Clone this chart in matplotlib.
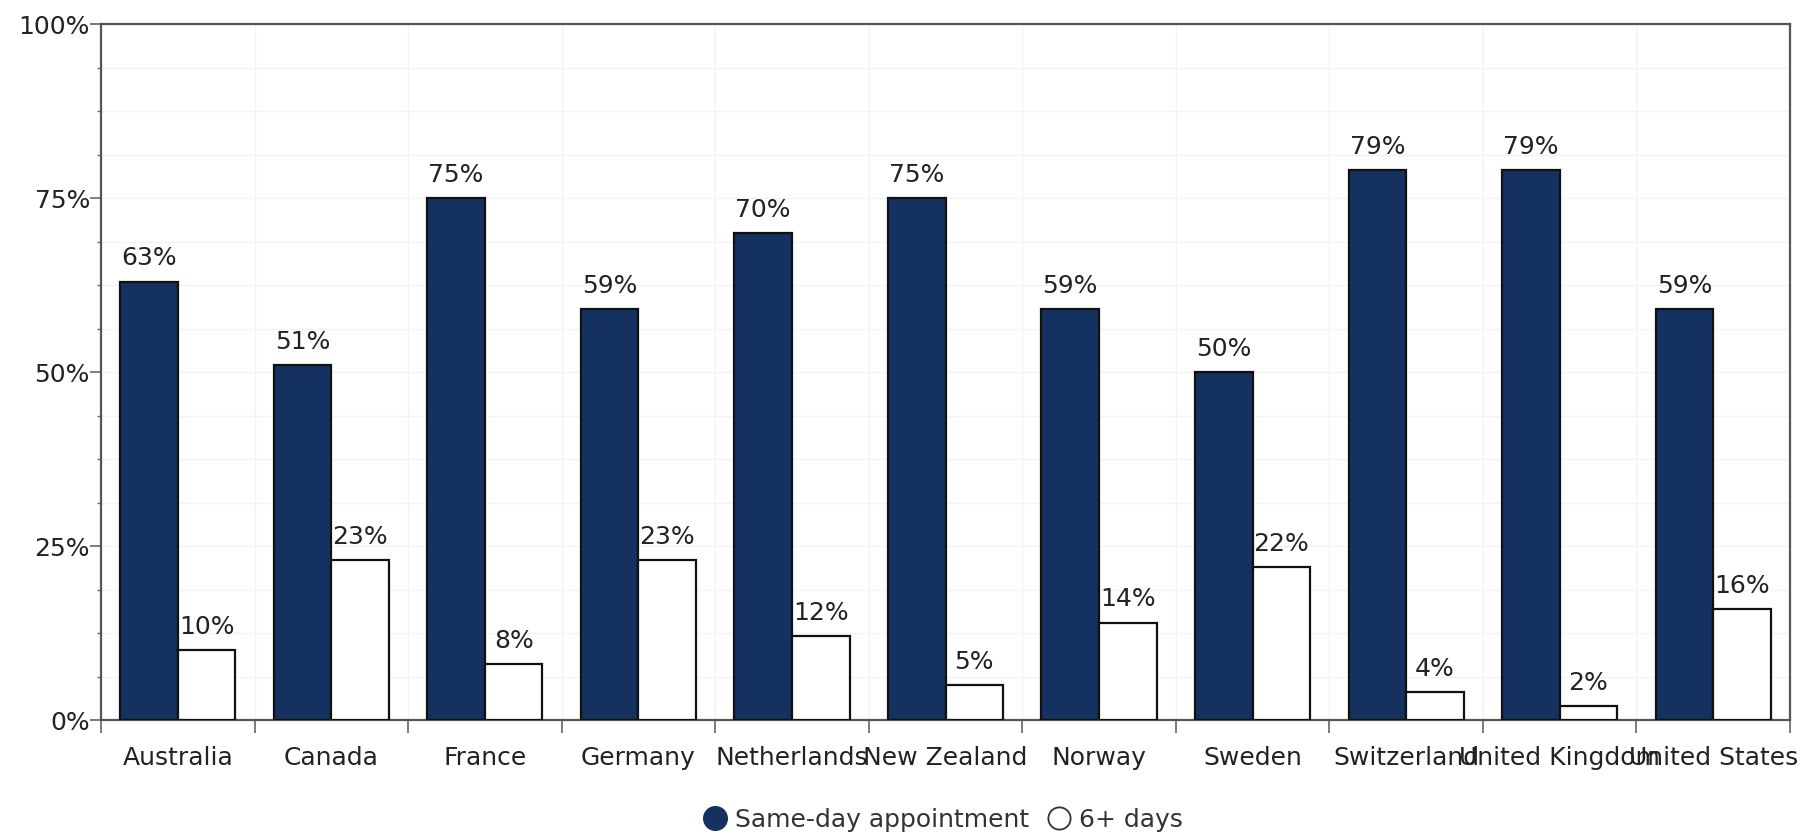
import numpy as np
import matplotlib.pyplot as plt
from matplotlib.lines import Line2D
from matplotlib.ticker import MultipleLocator, FixedLocator

countries = ["Australia", "Canada", "France", "Germany", "Netherlands", "New Zealand",
             "Norway", "Sweden", "Switzerland", "United Kingdom", "United States"]
same_day = [63, 51, 75, 59, 70, 75, 59, 50, 79, 79, 59]
six_plus = [10, 23, 8, 23, 12, 5, 14, 22, 4, 2, 16]

navy = "#14315f"
fs = 18

fig = plt.figure(figsize=(18.1, 8.34), dpi=100)
ax = fig.add_axes([101 / 1810, 114 / 834, 1689 / 1810, 696 / 834])

x = np.arange(len(countries))
w = 0.375
b1 = ax.bar(x - w / 2, same_day, w, color=navy, edgecolor="#111111", linewidth=1.6, zorder=3)
b2 = ax.bar(x + w / 2, six_plus, w, color="white", edgecolor="#111111", linewidth=1.6, zorder=3)

for bars, vals in ((b1, same_day), (b2, six_plus)):
    for r, v in zip(bars, vals):
        ax.text(r.get_x() + r.get_width() / 2, v + 1.6, f"{v}%", ha="center", va="bottom",
                fontsize=fs, color="#222222", zorder=4)

ax.set_xlim(-0.5, len(countries) - 0.5)
ax.set_ylim(0, 100)

# y axis: labelled every 25%, small ticks in between
ax.yaxis.set_major_locator(MultipleLocator(25))
ax.yaxis.set_minor_locator(MultipleLocator(6.25))
ax.set_yticklabels([f"{int(t)}%" for t in ax.get_yticks()])
ax.tick_params(axis="y", which="major", length=8, width=1.2, color="#666666", pad=0,
               labelsize=fs, labelcolor="#222222")
ax.tick_params(axis="y", which="minor", length=3, width=1, color="#666666")

# x axis: labels at group centres, ticks on the group boundaries
ax.set_xticks(x)
ax.set_xticklabels(countries)
ax.xaxis.set_minor_locator(FixedLocator(np.arange(-0.5, len(countries), 1.0)))
ax.tick_params(axis="x", which="major", length=0, pad=19, labelsize=fs, labelcolor="#222222")
ax.tick_params(axis="x", which="minor", length=9, width=1.2, color="#666666")

ax.grid(which="both", color="#f3f3f3", linewidth=1, zorder=0)
ax.grid(axis="x", which="major", visible=False)
for s in ax.spines.values():
    s.set_color("#555555")
    s.set_linewidth(1.6)

handles = [
    Line2D([], [], marker="o", linestyle="none", markersize=17, markerfacecolor=navy,
           markeredgecolor=navy),
    Line2D([], [], marker="o", linestyle="none", markersize=16, markerfacecolor="white",
           markeredgecolor="#333333", markeredgewidth=1.3),
]
fig.legend(handles, ["Same-day appointment", "6+ days"], loc="center",
           bbox_to_anchor=(943 / 1810, 1 - 820 / 834), ncol=2, frameon=False,
           fontsize=fs, handletextpad=0.3, columnspacing=0.7, handlelength=1.0,
           labelcolor="#333333")

fig.savefig("out.png", dpi=100)
